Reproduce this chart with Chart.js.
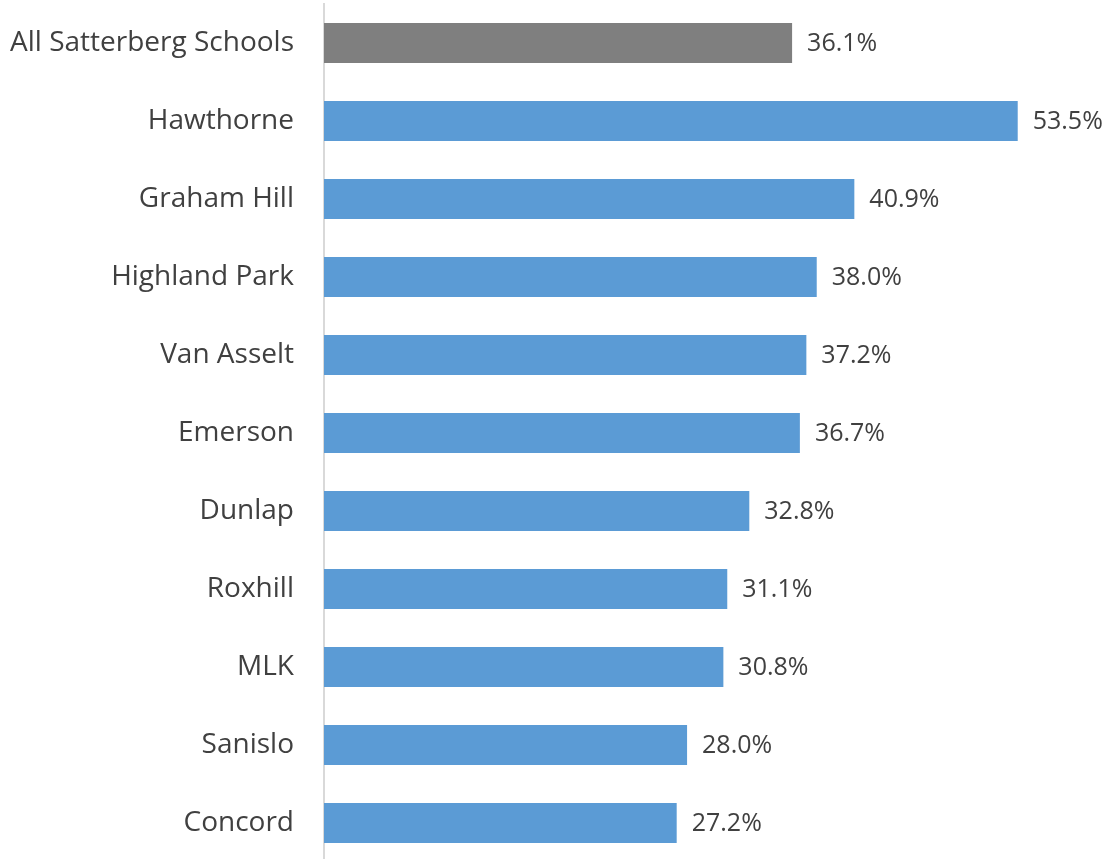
<!DOCTYPE html>
<html>
<head>
<meta charset="utf-8">
<script src="https://cdn.jsdelivr.net/npm/chart.js@4/dist/chart.umd.min.js"></script>
<style>
  html, body { margin: 0; padding: 0; background: #fff; overflow: hidden; }
  #wrap { width: 1107px; height: 863px; }
</style>
</head>
<body>
<div id="wrap"><canvas id="myChart"></canvas></div>
<script>
'use strict';

const schools = [
  'All Satterberg Schools', 'Hawthorne', 'Graham Hill', 'Highland Park', 'Van Asselt',
  'Emerson', 'Dunlap', 'Roxhill', 'MLK', 'Sanislo', 'Concord'
];
const percents = [36.1, 53.5, 40.9, 38.0, 37.2, 36.7, 32.8, 31.1, 30.8, 28.0, 27.2];
const barColors = schools.map((s, i) => i === 0 ? '#7f7f7f' : '#5b9bd5');

// draw the value next to the end of each bar
const valueLabels = {
  id: 'valueLabels',
  afterDatasetsDraw(chart) {
    const ctx = chart.ctx;
    const meta = chart.getDatasetMeta(0);
    ctx.save();
    ctx.font = '25px "Open Sans"';
    ctx.fillStyle = '#404040';
    ctx.textAlign = 'left';
    ctx.textBaseline = 'middle';
    meta.data.forEach((bar, i) => {
      ctx.fillText(percents[i].toFixed(1) + '%', bar.x + 15, bar.y + 1);
    });
    ctx.restore();
  }
};

const data = {
  labels: schools,
  datasets: [{
    data: percents,
    backgroundColor: barColors,
    borderWidth: 0,
    categoryPercentage: 1,
    barPercentage: 0.513
  }]
};

const config = {
  type: 'bar',
  data: data,
  options: {
    indexAxis: 'y',
    responsive: true,
    maintainAspectRatio: false,
    animation: false,
    layout: { padding: { top: 4, right: 5, bottom: 1, left: 0 } },
    plugins: {
      legend: { display: false },
      tooltip: { enabled: false }
    },
    scales: {
      x: {
        display: false,
        min: 0,
        max: 60
      },
      y: {
        afterFit(scale) {
          scale.width = 324;
          scale.paddingTop = 0;
          scale.paddingBottom = 0;
        },
        grid: { display: false },
        border: { display: true, color: '#d9d9d9', width: 2 },
        ticks: {
          color: '#404040',
          padding: 22,
          font: { family: '"Open Sans"', size: 28 }
        }
      }
    }
  },
  plugins: [valueLabels]
};

const myChart = new Chart(document.getElementById('myChart'), config);
</script>
</body>
</html>
